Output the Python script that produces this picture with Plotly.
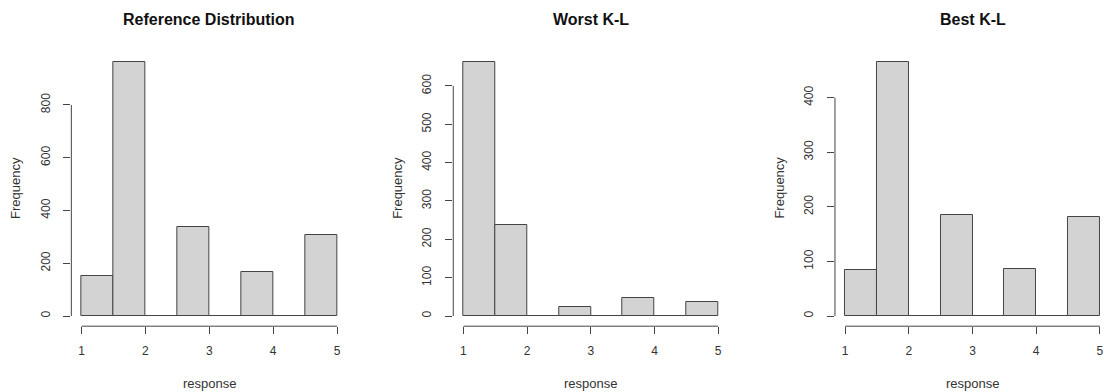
import plotly.graph_objects as go

W, H = 1104, 392

# ---- data ----
bin_left = [1.0, 1.5, 2.0, 2.5, 3.0, 3.5, 4.0, 4.5]
bin_width = 0.5
ref_counts = [150, 962, 0, 337, 0, 167, 0, 306]
worst_counts = [662, 237, 0, 23, 0, 48, 0, 36]
best_counts = [85, 465, 0, 185, 0, 87, 0, 181]
titles = ["Reference Distribution", "Worst K-L", "Best K-L"]
y_ticks = [[0, 200, 400, 600, 800],
           [0, 100, 200, 300, 400, 500, 600],
           [0, 100, 200, 300, 400]]
x_ticks = [1, 2, 3, 4, 5]

series = [ref_counts, worst_counts, best_counts]

# ---- layout geometry (pixels) ----
x_one_px = [81.7, 464.3, 846.7]
px_per_unit = [64.0, 63.8, 63.8]
y_top_px, y_bot_px = 52.0, 326.2

font_family = "Liberation Sans, Arial, Helvetica, sans-serif"
text_col = "#333333"
line_col = "#444444"

fig = go.Figure()
centers = [b + bin_width / 2 for b in bin_left]

for i, counts in enumerate(series):
    n = i + 1
    xa = "x" if n == 1 else f"x{n}"
    ya = "y" if n == 1 else f"y{n}"
    fig.add_trace(go.Bar(
        x=centers, y=counts, width=bin_width,
        marker=dict(color="#D3D3D3", line=dict(color=line_col, width=1)),
        xaxis=xa, yaxis=ya, showlegend=False, hoverinfo="x+y",
    ))

    lo, hi = min(x_ticks), max(x_ticks)
    ext = 0.04 * (hi - lo)
    x0 = lo - ext
    x1 = hi + ext
    left_px = x_one_px[i] - ext * px_per_unit[i]
    right_px = x_one_px[i] + (x1 - 1) * px_per_unit[i]
    if right_px > W:
        x1 = 1 + (W - x_one_px[i]) / px_per_unit[i]
        right_px = W
    ymax = max(counts)
    yr = [-0.04 * ymax, 1.04 * ymax]

    axis_common = dict(showgrid=False, zeroline=False, showline=False,
                       ticks="outside", ticklen=7, tickcolor=line_col,
                       tickwidth=1, ticklabeloverflow="allow",
                       tickfont=dict(size=12, color=text_col,
                                     family=font_family))
    fig.layout[f"xaxis{'' if n == 1 else n}"] = dict(
        domain=[left_px / W, min(right_px / W, 1.0)], range=[x0, x1],
        anchor=ya, tickvals=x_ticks, ticktext=[str(v) for v in x_ticks],
        ticklabelstandoff=6, **axis_common)
    fig.layout[f"yaxis{'' if n == 1 else n}"] = dict(
        domain=[1 - y_bot_px / H, 1 - y_top_px / H], range=yr,
        anchor=xa, tickvals=y_ticks[i], ticktext=[str(v) for v in y_ticks[i]],
        tickangle=-90, ticklabelstandoff=9, **axis_common)

    # R-style axis lines spanning only the tick range
    fig.add_shape(type="line", xref=xa, yref=f"{ya} domain",
                  x0=lo, x1=hi, y0=0, y1=0,
                  line=dict(color=line_col, width=1))
    fig.add_shape(type="line", xref=f"{xa} domain", yref=ya,
                  x0=0, x1=0, y0=min(y_ticks[i]), y1=max(y_ticks[i]),
                  line=dict(color=line_col, width=1))

    full_right = x_one_px[i] + (hi + ext - 1) * px_per_unit[i]
    cx = (left_px + full_right) / 2
    fig.add_annotation(text=f"<b>{titles[i]}</b>", xref="paper", yref="paper",
                       x=cx / W, y=1 - 20 / H, showarrow=False,
                       xanchor="center", yanchor="middle",
                       font=dict(size=16, color="#111111", family=font_family))
    fig.add_annotation(text="response", xref="paper", yref="paper",
                       x=cx / W, y=1 - 383 / H, showarrow=False,
                       xanchor="center", yanchor="middle",
                       font=dict(size=13, color=text_col, family=font_family))
    fig.add_annotation(text="Frequency", xref="paper", yref="paper",
                       x=(left_px - 56.5) / W, y=1 - 188 / H, showarrow=False,
                       textangle=-90, xanchor="center", yanchor="middle",
                       font=dict(size=13, color=text_col, family=font_family))

fig.update_layout(width=W, height=H, margin=dict(l=0, r=0, t=0, b=0),
                  paper_bgcolor="white", plot_bgcolor="white",
                  bargap=0, font=dict(family=font_family, color=text_col))

fig.write_html("out.html")
